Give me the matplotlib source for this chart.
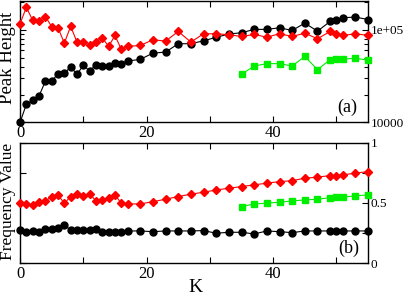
import matplotlib
matplotlib.use("Agg")
import matplotlib.pyplot as plt
from matplotlib.ticker import FixedLocator, NullFormatter

plt.rcParams['font.family'] = ['Liberation Serif', 'DejaVu Serif']

# K values for the black / red series
k_all = [0, 1, 2, 3, 4, 5, 6, 7, 8, 9, 10, 11, 12, 13, 14, 15, 16, 17,
         19, 21, 23, 25, 27, 29, 31, 33, 35, 37, 39, 41, 43, 45, 47, 49, 50, 51, 53, 55]
# K values for the green series
k_green = [35, 37, 39, 41, 43, 45, 47, 49, 50, 51, 53, 55]

# panel (a): peak height (log scale)
peak_black = [1.0e4, 1.57e4, 1.74e4, 1.93e4, 2.78e4, 2.78e4, 3.36e4, 3.41e4, 3.96e4, 3.31e4,
              4.13e4, 3.59e4, 4.2e4, 4.06e4, 4.06e4, 4.42e4, 4.31e4, 4.6e4,
              4.79e4, 5.6e4, 5.74e4, 7.07e4, 7.07e4, 7.6e4, 8.3e4, 9.0e4, 9.29e4,
              1.01e5, 1.01e5, 1.05e5, 9.83e4, 1.18e5, 9.66e4, 1.23e5, 1.26e5, 1.35e5, 1.37e5, 1.29e5]
peak_red = [1.16e5, 1.75e5, 1.26e5, 1.23e5, 1.39e5, 1.08e5, 1.05e5, 7.18e4, 1.09e5, 7.36e4,
            7.36e4, 6.78e4, 7.43e4, 8.2e4, 6.61e4, 8.68e4, 6.14e4, 6.61e4,
            6.78e4, 7.8e4, 7.54e4, 9.59e4, 7.36e4, 9.06e4, 9.06e4, 8.84e4, 8.47e4,
            8.9e4, 8.32e4, 9.06e4, 8.47e4, 9.19e4, 8.0e4, 9.59e4, 8.9e4, 8.68e4, 9.06e4, 8.68e4]
peak_green = [3.31e4, 4.06e4, 4.31e4, 4.31e4, 4.06e4, 5.16e4, 3.71e4, 4.76e4, 4.79e4, 4.79e4, 4.95e4, 4.68e4]

# panel (b): frequency value
freq_black = [0.276, 0.262, 0.270, 0.257, 0.282, 0.285, 0.290, 0.318, 0.276, 0.276,
              0.276, 0.276, 0.282, 0.262, 0.262, 0.262, 0.262, 0.268,
              0.268, 0.262, 0.268, 0.268, 0.268, 0.271, 0.249, 0.257, 0.257,
              0.243, 0.268, 0.262, 0.254, 0.268, 0.268, 0.268, 0.268, 0.268, 0.268, 0.268]
freq_red = [0.503, 0.492, 0.483, 0.511, 0.519, 0.548, 0.567, 0.497, 0.553, 0.573,
            0.558, 0.573, 0.519, 0.525, 0.539, 0.567, 0.497, 0.492,
            0.492, 0.511, 0.531, 0.553, 0.573, 0.589, 0.608, 0.622, 0.636,
            0.650, 0.664, 0.677, 0.685, 0.705, 0.714, 0.727, 0.727, 0.733, 0.747, 0.760]
freq_green = [0.470, 0.492, 0.498, 0.506, 0.517, 0.525, 0.531, 0.544, 0.548, 0.548, 0.559, 0.567]

GREEN = '#00ee00'

fig = plt.figure(figsize=(4.09, 2.95), dpi=100)
ax1 = fig.add_axes([0.049, 0.585, 0.851, 0.412])
ax2 = fig.add_axes([0.049, 0.1075, 0.851, 0.409])

def draw(ax, yb, yr, yg):
    ax.plot(k_all, yb, color='black', lw=0.8, marker='o', ms=5, mec='black', mfc='black', clip_on=False, zorder=3)
    ax.plot(k_all, yr, color='red', lw=0.8, marker='D', ms=4.4, mec='red', mfc='red', clip_on=False, zorder=3)
    ax.plot(k_green, yg, color=GREEN, lw=0.8, marker='s', ms=4.5, mec=GREEN, mfc=GREEN, clip_on=False, zorder=3)
    ax.set_xlim(0, 55)
    ax.xaxis.set_major_locator(FixedLocator([0, 20, 40]))
    ax.xaxis.set_minor_locator(FixedLocator([10, 30, 50]))
    ax.tick_params(which='both', direction='in', top=True, right=True, left=True,
                   labelleft=False, labelright=True, length=4, width=0.8)
    ax.tick_params(axis='x', labelsize=12, pad=2)
    ax.tick_params(axis='y', labelsize=9.5, pad=2)
    for s in ax.spines.values():
        s.set_linewidth(1.0)

draw(ax1, peak_black, peak_red, peak_green)
ax1.set_yscale('log')
ax1.set_ylim(1e4, 2.05e5)
ax1.yaxis.set_major_locator(FixedLocator([1e4, 1e5]))
ax1.yaxis.set_minor_locator(FixedLocator([2e4, 3e4, 4e4, 5e4, 6e4, 7e4, 8e4, 9e4, 2e5]))
ax1.yaxis.set_minor_formatter(NullFormatter())
ax1.set_yticklabels(['10000', '1e+05'])
ax1.tick_params(axis='y', which='minor', length=3)
ax1.text(0.94, 0.12, '(a)', transform=ax1.transAxes, fontsize=13, ha='center', va='center')

draw(ax2, freq_black, freq_red, freq_green)
ax2.set_ylim(0, 1)
ax2.yaxis.set_major_locator(FixedLocator([0, 0.5, 1]))
ax2.yaxis.set_minor_locator(FixedLocator([0.25, 0.75]))
ax2.set_yticklabels(['0', '0.5', '1'])
ax2.text(0.945, 0.127, '(b)', transform=ax2.transAxes, fontsize=13, ha='center', va='center')

fig.text(0.019, 0.805, 'Peak Height', rotation=90, fontsize=13.5, ha='center', va='center')
fig.text(0.019, 0.317, 'Frequency Value', rotation=90, fontsize=12.5, ha='center', va='center')
fig.text(0.477, 0.025, 'K', fontsize=14, ha='center', va='center')

fig.savefig('out.png', dpi=100)
